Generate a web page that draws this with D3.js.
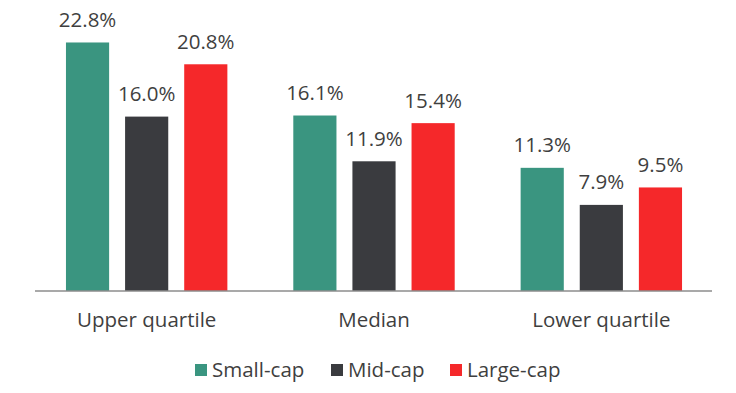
<!DOCTYPE html>
<html>
<head>
<meta charset="utf-8">
<script src="https://cdn.jsdelivr.net/npm/d3@7"></script>
<style>
  html, body { margin: 0; padding: 0; background: #ffffff; }
  svg { display: block; }
  text { font-family: "Open Sans", "DejaVu Sans", sans-serif; fill: #3f3f3f; }
</style>
</head>
<body>
<svg id="chart" width="736" height="393"></svg>
<script>
const categories = ["Upper quartile", "Median", "Lower quartile"];
const seriesNames = ["Small-cap", "Mid-cap", "Large-cap"];
const smallCap = [22.8, 16.1, 11.3];
const midCap = [16.0, 11.9, 7.9];
const largeCap = [20.8, 15.4, 9.5];
const colors = ["#3a9580", "#3a3b3f", "#f5282a"];

const seriesValues = [smallCap, midCap, largeCap];
const rows = categories.map((c, i) => ({
  category: c,
  values: seriesNames.map((s, j) => ({ series: s, value: seriesValues[j][i] }))
}));

const svg = d3.select("#chart");

const x0 = d3.scaleBand().domain(categories).range([33, 715])
  .paddingInner(0.29).paddingOuter(0.145);
const x1 = d3.scaleBand().domain(seriesNames).range([0, x0.bandwidth()])
  .paddingInner(0.27).paddingOuter(0);
const y = d3.scaleLinear().domain([0, 25]).range([291, 18.5]);
const color = d3.scaleOrdinal().domain(seriesNames).range(colors);

const groups = svg.append("g").selectAll("g").data(rows).join("g")
  .attr("transform", d => `translate(${x0(d.category)},0)`);

groups.selectAll("rect").data(d => d.values).join("rect")
  .attr("x", d => x1(d.series))
  .attr("width", x1.bandwidth())
  .attr("y", d => y(d.value))
  .attr("height", d => y(0) - y(d.value))
  .attr("fill", d => color(d.series));

groups.selectAll("text.val").data(d => d.values).join("text")
  .attr("class", "val")
  .attr("x", d => x1(d.series) + x1.bandwidth() / 2)
  .attr("y", d => y(d.value) - 15.5)
  .attr("text-anchor", "middle")
  .style("font-size", "20.5px")
  .text(d => d.value.toFixed(1) + "%");

// axis
const xAxis = d3.axisBottom(x0).tickSize(0).tickPadding(21);
const ax = svg.append("g").attr("transform", `translate(0,${y(0)})`).call(xAxis);
ax.select(".domain").attr("stroke", "#8c8c8c").attr("stroke-width", 1.5)
  .attr("d", "M35,0H712");
ax.selectAll("text").style("font-size", "20.5px").style("fill", "#3f3f3f")
  .style("font-family", "'Open Sans', sans-serif");

// legend
const legendX = [195, 331, 450];
const legend = svg.append("g").selectAll("g").data(seriesNames).join("g")
  .attr("transform", (d, i) => `translate(${legendX[i]},370)`);
legend.append("rect").attr("x", 0).attr("y", -6).attr("width", 12).attr("height", 12)
  .attr("fill", d => color(d));
legend.append("text").attr("x", 17).attr("y", 0).attr("dy", "0.35em")
  .style("font-size", "20.5px").text(d => d);
</script>
</body>
</html>
